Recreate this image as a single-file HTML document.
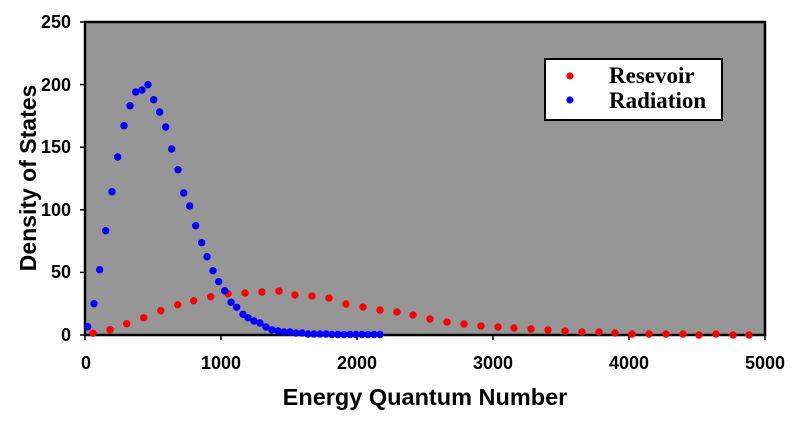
<!DOCTYPE html>
<html><head><style>body{margin:0;background:#fff}svg text{font-family:"Liberation Sans",Arial,sans-serif;font-weight:bold}</style></head>
<body>
<svg width="796" height="423" xmlns="http://www.w3.org/2000/svg">
<rect x="85" y="22" width="680" height="313" fill="#969696" stroke="#000" stroke-width="2.5"/>
<g stroke="#000" stroke-width="1.5">
<line x1="80" y1="22" x2="85" y2="22"/><line x1="80" y1="84.6" x2="85" y2="84.6"/><line x1="80" y1="147.2" x2="85" y2="147.2"/><line x1="80" y1="209.8" x2="85" y2="209.8"/><line x1="80" y1="272.4" x2="85" y2="272.4"/><line x1="80" y1="335" x2="85" y2="335"/>
<line x1="85" y1="335" x2="85" y2="340"/><line x1="221" y1="335" x2="221" y2="340"/><line x1="357" y1="335" x2="357" y2="340"/><line x1="493" y1="335" x2="493" y2="340"/><line x1="629" y1="335" x2="629" y2="340"/><line x1="765" y1="335" x2="765" y2="340"/>
</g>
<g font-size="18" text-anchor="end">
<text x="71" y="28">250</text><text x="71" y="91">200</text><text x="71" y="153">150</text><text x="71" y="216">100</text><text x="71" y="278">50</text><text x="71" y="341">0</text>
</g>
<g font-size="18" text-anchor="middle">
<text x="86" y="369">0</text><text x="221" y="369">1000</text><text x="357" y="369">2000</text><text x="493" y="369">3000</text><text x="629" y="369">4000</text><text x="765" y="369">5000</text>
</g>
<text x="425" y="405" font-size="23.5" text-anchor="middle">Energy Quantum Number</text>
<text transform="translate(36,178) rotate(-90)" font-size="23" text-anchor="middle">Density of States</text>
<g id="red" fill="#f00"></g>
<g id="blue" fill="#00f"></g>
<rect x="545" y="59" width="177" height="61" fill="#fff" stroke="#000" stroke-width="2"/>
<circle cx="570" cy="76" r="3.6" fill="#f00"/><circle cx="570" cy="100" r="3.6" fill="#00f"/>
<text x="609" y="83" font-size="23" style="font-family:'Liberation Serif',serif;font-weight:bold">Resevoir</text>
<text x="609" y="108" font-size="23" style="font-family:'Liberation Serif',serif;font-weight:bold">Radiation</text>
</svg>
<script>
var ns="http://www.w3.org/2000/svg";
function add(g,pts){var e=document.getElementById(g);pts.forEach(function(p){var c=document.createElementNS(ns,"circle");c.setAttribute("cx",p[0]);c.setAttribute("cy",p[1]);c.setAttribute("r",3.7);e.appendChild(c);});}
add("red",[[93,333.3],[110,329.7],[126.7,323.7],[143.7,317.7],[160.7,310.7],[177.7,304.7],[193.7,300.7],[210.7,296.7],[228,293.7],[245,293],[262,292],[279,291],[295,295],[312,296],[329,298],[346,304],[363,307],[380,310],[397,312],[413,315],[430,319],[447,322],[464,324],[481,326],[498,327],[514,328],[531,329],[548,330],[565,331],[582,332],[599,332],[615,333],[632,334],[649,334],[666,334],[683,334],[699,335],[716,334],[733,335],[749,335]]);
var bx=[87.7,94,99.7,105.7,112,117.7,124,130,135.7,142,148,153.7,159.7,165.7,171.7,178,183.7,189.7,195.7,201.7,207,213,218.7,224.7,231,236.7,243,248];
var by=[326.7,303.7,269.7,230.7,191.7,157,125.7,105.7,92,90,84.7,99.7,112,127,149,169.7,193,206,225.7,242.7,256.7,270.7,281.7,290.7,302.3,307.3,314.3,317.7];
var b=bx.map(function(x,i){return [x,by[i]];});
[[254,321],[260,323],[266,327],[272,330],[278,331],[284,332],[290,332],[296,333],[302,333],[308,334],[314,334],[320,334],[326,334],[332,334.5],[338,334.5],[344,334.5],[350,334.5],[356,334.5],[362,334.5],[368,334.5],[374,334.5],[380,334.5]].forEach(function(p){b.push(p);});
add("blue",b);
</script>
</body></html>
